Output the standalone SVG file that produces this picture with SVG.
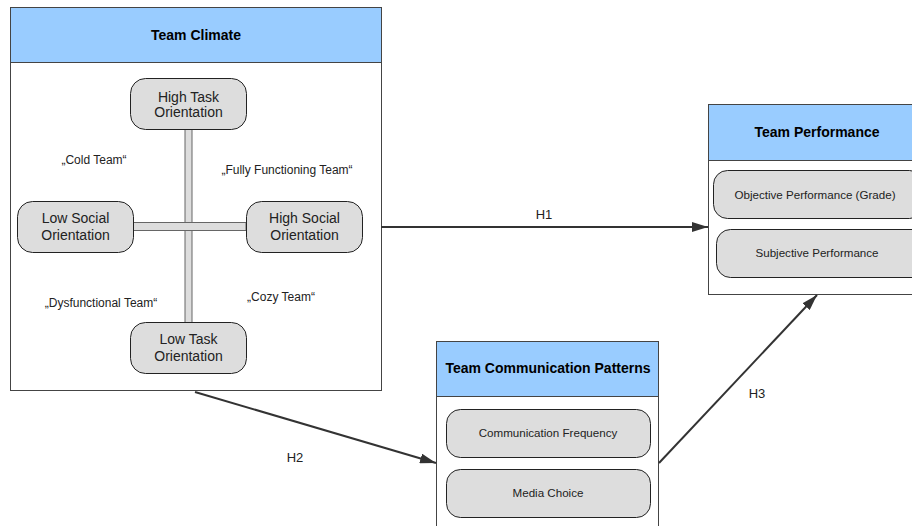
<svg xmlns="http://www.w3.org/2000/svg" width="912" height="526" viewBox="0 0 912 526">
<defs>
<marker id="ah" viewBox="0 0 16 10" refX="16" refY="5" markerWidth="16" markerHeight="10" markerUnits="userSpaceOnUse" orient="auto">
<path d="M0,0 L16,5 L0,10 z" fill="#333"/>
</marker>
<style>
.box{fill:#fff;stroke:#444;stroke-width:1}
.hdr{fill:#99ccff;stroke:#444;stroke-width:1}
.ttl{font-family:"Liberation Sans",Arial,sans-serif;font-size:14px;font-weight:bold;fill:#000;text-anchor:middle}
.nd{fill:#dddddd;stroke:#222;stroke-width:1}
.nt{font-family:"Liberation Sans",Arial,sans-serif;font-size:14px;fill:#222;text-anchor:middle}
.st{font-family:"Liberation Sans",Arial,sans-serif;font-size:11.6px;fill:#222;text-anchor:middle}
.qt{font-family:"Liberation Sans",Arial,sans-serif;font-size:12px;fill:#222;text-anchor:middle}
.bar{fill:#dddddd;stroke:#666;stroke-width:1}
.cn{stroke:#333;stroke-width:2;fill:none}
.lb{font-family:"Liberation Sans",Arial,sans-serif;font-size:13px;fill:#222;text-anchor:middle}
</style>
</defs>

<g id="team-climate">
<rect class="box" x="10.5" y="7.5" width="371" height="383"/>
<rect class="hdr" x="10.5" y="7.5" width="371" height="55"/>
<text class="ttl" x="196" y="40">Team Climate</text>
<rect class="bar" x="185" y="129" width="7" height="194"/>
<rect class="bar" x="133" y="222.5" width="113" height="8"/>
<rect x="185.5" y="223" width="6" height="7" fill="#dddddd"/>
<text class="qt" x="94" y="164">„Cold Team“</text>
<text class="qt" x="287" y="174">„Fully Functioning Team“</text>
<text class="qt" x="101" y="307">„Dysfunctional Team“</text>
<text class="qt" x="281" y="301">„Cozy Team“</text>
</g>

<g id="high-task">
<rect class="nd" x="130.5" y="78.5" width="116" height="51" rx="15"/>
<text class="nt" x="188.5" y="102">High Task</text>
<text class="nt" x="188.5" y="117">Orientation</text>
</g>
<g id="low-social">
<rect class="nd" x="17.5" y="201.5" width="116" height="51" rx="15"/>
<text class="nt" x="75.5" y="223">Low Social</text>
<text class="nt" x="75.5" y="240">Orientation</text>
</g>
<g id="high-social">
<rect class="nd" x="246.5" y="201.5" width="116" height="51" rx="15"/>
<text class="nt" x="304.5" y="223">High Social</text>
<text class="nt" x="304.5" y="240">Orientation</text>
</g>
<g id="low-task">
<rect class="nd" x="130.5" y="322.5" width="116" height="51" rx="15"/>
<text class="nt" x="188.5" y="344">Low Task</text>
<text class="nt" x="188.5" y="361">Orientation</text>
</g>

<g id="team-performance">
<rect class="box" x="708.5" y="104.5" width="210" height="190"/>
<rect class="hdr" x="708.5" y="104.5" width="210" height="56"/>
<text class="ttl" x="817" y="137">Team Performance</text>
<rect class="nd" x="713.5" y="170.5" width="210" height="48" rx="14"/>
<text class="st" x="815" y="199">Objective Performance (Grade)</text>
<rect class="nd" x="716.5" y="229.5" width="210" height="48" rx="14"/>
<text class="st" x="817" y="257">Subjective Performance</text>
</g>

<g id="team-communication">
<rect class="box" x="436.5" y="341.5" width="222" height="200"/>
<rect class="hdr" x="436.5" y="341.5" width="222" height="55"/>
<text class="ttl" x="548" y="373">Team Communication Patterns</text>
<rect class="nd" x="446.5" y="409.5" width="204" height="48" rx="14"/>
<text class="st" x="548" y="437">Communication Frequency</text>
<rect class="nd" x="446.5" y="469.5" width="204" height="48" rx="14"/>
<text class="st" x="548" y="497">Media Choice</text>
</g>

<g id="connectors">
<line class="cn" x1="381" y1="227" x2="708" y2="227" marker-end="url(#ah)"/>
<text class="lb" x="544" y="219">H1</text>
<line class="cn" x1="195" y1="392" x2="436" y2="463" marker-end="url(#ah)"/>
<text class="lb" x="295" y="462">H2</text>
<line class="cn" x1="659" y1="463" x2="817" y2="295" marker-end="url(#ah)"/>
<text class="lb" x="757" y="398">H3</text>
</g>
</svg>
